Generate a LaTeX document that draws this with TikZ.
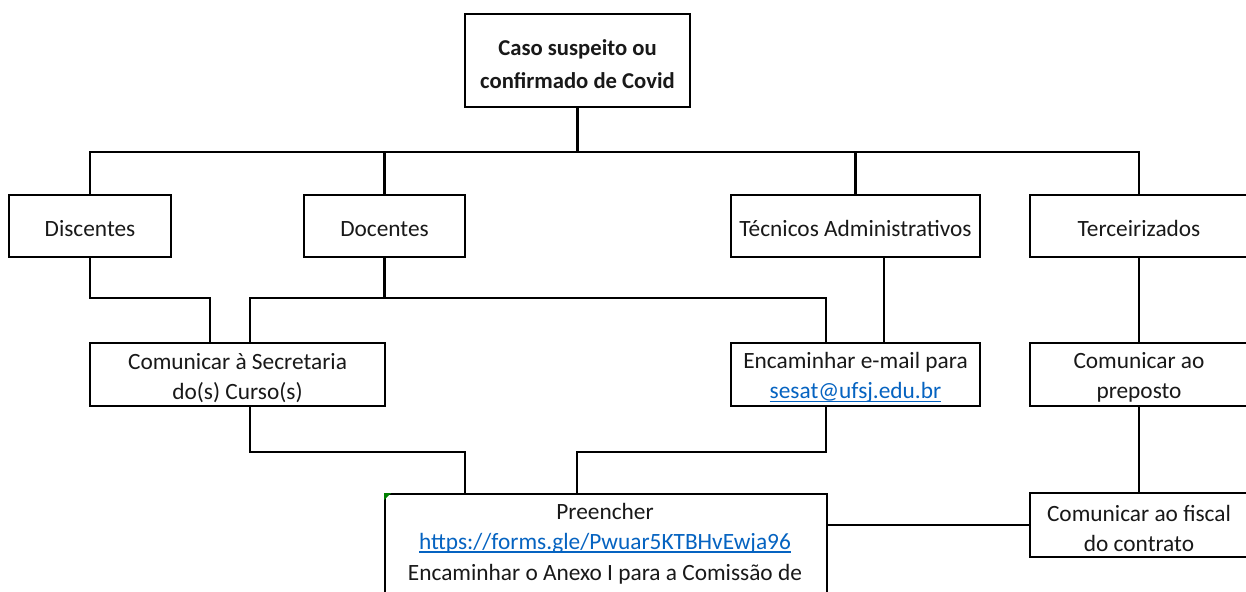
\documentclass[tikz,border=0pt]{standalone}
\usepackage{fontspec}
\setmainfont{Carlito}
\definecolor{linkblue}{HTML}{0563C1}
\newcommand{\lnk}[1]{\textcolor{linkblue}{\setbox0\hbox{#1}\rlap{\rule[-2.3pt]{\wd0}{0.9pt}}\box0}}
\newcommand{\tl}{\rule{0pt}{17pt}}
\begin{document}
\begin{tikzpicture}[x=0.75pt,y=-0.75pt,
  box/.style={draw=black,line width=1.6pt,fill=white,inner sep=0pt,align=center,
    font=\fontsize{17.5}{22.5}\selectfont,text=black!90},
  single/.style={text height=15.5pt,text depth=0pt},
  conn/.style={line width=1.6pt,draw=black},
  txt/.style={inner sep=0pt,align=center,font=\fontsize{17.5}{22.5}\selectfont,text=black!90}]
\useasboundingbox (0,0) rectangle (1246,592);
\clip (0,0) rectangle (1246,592);
% boxes
\node[box,minimum width=225*0.75pt,minimum height=93*0.75pt,font=\bfseries\fontsize{17}{24.5}\selectfont] (top) at (577.5,60.5) {\rule{0pt}{17pt}Caso suspeito ou\\confirmado de Covid};
\node[box,single,minimum width=162*0.75pt,minimum height=62*0.75pt] (disc) at (90,226) {Discentes};
\node[box,single,minimum width=161*0.75pt,minimum height=62*0.75pt] (doc) at (384.5,226) {Docentes};
\node[box,single,minimum width=249*0.75pt,minimum height=62*0.75pt] (tec) at (855.5,226) {Técnicos Administrativos};
\node[box,single,minimum width=218*0.75pt,minimum height=62*0.75pt] (ter) at (1139,226) {Terceirizados};
\node[box,minimum width=295*0.75pt,minimum height=63*0.75pt] (sec) at (237.5,374.5) {\tl Comunicar à Secretaria\\do(s) Curso(s)};
\node[box,minimum width=249*0.75pt,minimum height=63*0.75pt] (enc) at (855.5,374.5) {\tl Encaminhar e-mail para\\\lnk{sesat@ufsj.edu.br}};
\node[box,minimum width=218*0.75pt,minimum height=63*0.75pt] (prep) at (1139,374.5) {\tl Comunicar ao\\preposto};
\node[box,minimum width=218*0.75pt,minimum height=64*0.75pt] (fis) at (1139,525) {\tl Comunicar ao fiscal\\do contrato};
\node[box,minimum width=442*0.75pt,minimum height=140*0.75pt,anchor=north west] (pre) at (384,493) {};
\fill[green!50!black] (pre.north west) -- ++(7,0) -- ++(-7,7) -- cycle;
\node[txt,anchor=north] (pretext) at (605,503) {Preencher\\\lnk{https://forms.gle/Pwuar5KTBHvEwja96}\\[1pt]Encaminhar o Anexo I para a Comissão de};
% junction coordinates
\coordinate (bus) at (91,152);
\coordinate (j1) at (210,298);
\coordinate (j2) at (250,298);
\coordinate (j3) at (826,298);
\coordinate (j4) at (884,300);
\coordinate (k1) at (250,452);
\coordinate (k2) at (465,452);
\coordinate (k3) at (826,452);
\coordinate (k4) at (577,452);
% connectors
\draw[conn] (top.south) -- (top.south |- bus);
\draw[conn] (disc.north) -- (disc.north |- bus) -| (ter.north);
\draw[conn] (doc.north) -- (doc.north |- bus);
\draw[conn] (tec.north) -- (tec.north |- bus);
\draw[conn] (disc.south) |- (j1) -- (j1 |- sec.north);
\draw[conn] (doc.south) -- (doc.south |- j2);
\draw[conn] (j2 |- sec.north) -- (j2) -- (j3) -- (j3 |- enc.north);
\draw[conn] (tec.south -| j4) -- (enc.north -| j4);
\draw[conn] (ter.south) -- (prep.north);
\draw[conn] (prep.south) -- (fis.north);
\draw[conn] (sec.south -| k1) -- (k1) -- (k2) -- (k2 |- pre.north);
\draw[conn] (enc.south -| k3) -- (k3) -- (k4) -- (k4 |- pre.north);
\draw[conn] (pre.east |- fis.west) -- (fis.west);
\end{tikzpicture}
\end{document}
